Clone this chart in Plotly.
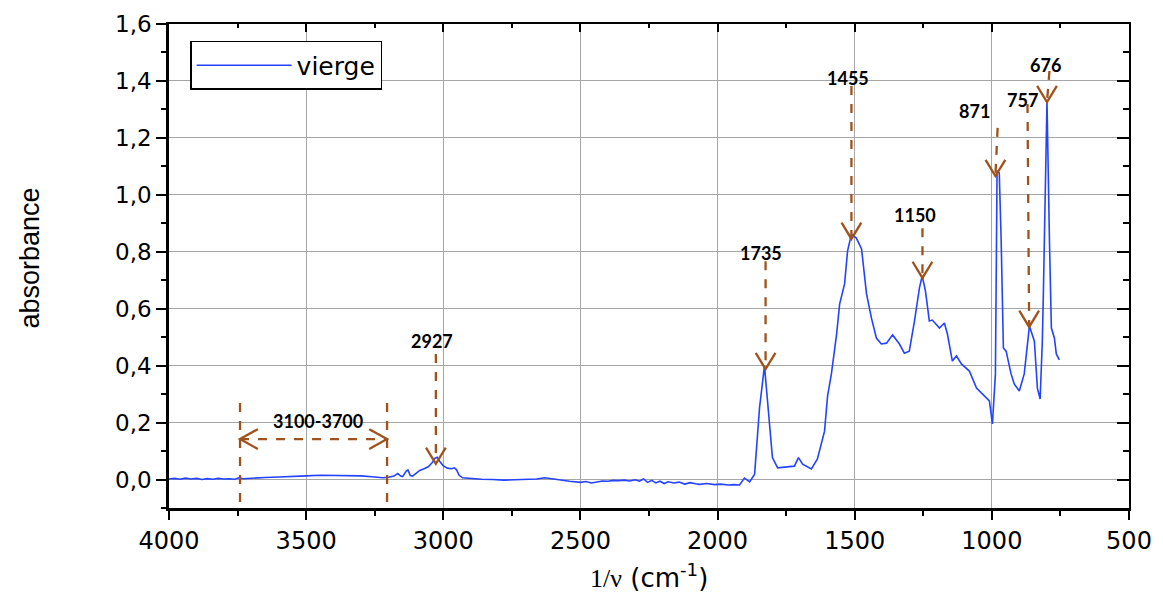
import plotly.graph_objects as go

# ---------------- data ----------------
wavenumber = [
    4000, 3980, 3960, 3940, 3920, 3900, 3880, 3860, 3840, 3820, 3800, 3780, 3760, 3745, 3730,
    3700, 3650, 3600, 3550, 3500, 3450, 3400, 3350, 3300, 3260, 3220, 3200, 3180, 3166, 3155,
    3148, 3135, 3129, 3120, 3112, 3100, 3086, 3070, 3055, 3040, 3030, 3022, 3012, 3000, 2985,
    2970, 2960, 2952, 2942, 2930, 2900, 2860, 2820, 2780, 2740, 2700, 2660, 2630, 2610, 2580,
    2540, 2500, 2480, 2460, 2440, 2420, 2400, 2380, 2360, 2340, 2320, 2300, 2285, 2270, 2255,
    2240, 2225, 2210, 2195, 2180, 2160, 2140, 2120, 2100, 2080, 2066, 2040, 2010, 1990, 1960,
    1940, 1920, 1902, 1883, 1865, 1847, 1829, 1811, 1800, 1781, 1749, 1720, 1705, 1690, 1658,
    1636, 1610, 1599, 1585, 1566, 1555, 1537, 1526, 1512, 1494, 1475, 1457, 1439, 1421, 1403,
    1384, 1362, 1337, 1319, 1301, 1282, 1264, 1254, 1242, 1228, 1217, 1191, 1173, 1162, 1144,
    1129, 1111, 1082, 1056, 1035, 1009, 998, 987, 981, 973, 966, 958, 948, 930, 918,
    900, 882, 863, 845, 834, 824, 816, 812, 803, 799, 790, 783, 772, 765, 754,
]
absorbance = [
    0.002, 0.004, 0.001, 0.005, 0.002, 0.004, 0.000, 0.003, 0.001, 0.004, 0.002, 0.003, 0.001, 0.006, 0.003,
    0.005, 0.007, 0.009, 0.012, 0.013, 0.015, 0.015, 0.014, 0.013, 0.010, 0.006, 0.008, 0.012, 0.021, 0.012,
    0.010, 0.030, 0.034, 0.014, 0.012, 0.022, 0.032, 0.038, 0.045, 0.060, 0.075, 0.078, 0.062, 0.048, 0.040,
    0.038, 0.041, 0.035, 0.015, 0.006, 0.003, 0.001, 0.000, -0.002, -0.001, 0.000, 0.002, 0.006, 0.003, -0.002,
    -0.006, -0.010, -0.007, -0.012, -0.008, -0.005, -0.006, -0.003, -0.004, -0.002, -0.005, -0.001, -0.006, 0.002, -0.010,
    -0.003, -0.012, -0.006, -0.014, -0.008, -0.012, -0.009, -0.016, -0.011, -0.015, -0.017, -0.014, -0.018, -0.016, -0.019,
    -0.018, -0.019, 0.005, -0.008, 0.019, 0.252, 0.399, 0.195, 0.077, 0.041, 0.044, 0.047, 0.077, 0.054, 0.037,
    0.072, 0.170, 0.293, 0.371, 0.511, 0.616, 0.687, 0.803, 0.862, 0.848, 0.810, 0.652, 0.567, 0.497, 0.476,
    0.479, 0.508, 0.476, 0.444, 0.451, 0.557, 0.673, 0.715, 0.662, 0.557, 0.560, 0.532, 0.550, 0.511, 0.416,
    0.434, 0.406, 0.381, 0.321, 0.300, 0.276, 0.195, 0.371, 1.084, 1.077, 0.838, 0.462, 0.451, 0.371, 0.335,
    0.311, 0.371, 0.539, 0.486, 0.321, 0.283, 0.486, 0.662, 1.189, 1.329, 0.838, 0.532, 0.497, 0.441, 0.420,
]
series_name = "vierge"

x_ticks = [4000, 3500, 3000, 2500, 2000, 1500, 1000, 500]
y_ticks = [0.0, 0.2, 0.4, 0.6, 0.8, 1.0, 1.2, 1.4, 1.6]

peak_labels = ["2927", "1735", "1455", "1150", "871", "757", "676"]
label_x = [3042, 1843, 1523, 1282, 1064, 889, 805]
label_y = [0.486, 0.796, 1.410, 0.929, 1.294, 1.333, 1.456]
arrow_top_x = [3027, 1825, 1512, 1253, 979, 870, 790]
arrow_top_y = [0.441, 0.767, 1.382, 0.883, 1.235, 1.319, 1.435]
arrow_tip_x = [3027, 1825, 1512, 1253, 987, 864, 799]
arrow_tip_y = [0.055, 0.388, 0.845, 0.708, 1.066, 0.536, 1.326]

band_label = "3100-3700"
band_label_x = 3457
band_label_y = 0.205
band_edges = [3741, 3205]
band_edge_y = [-0.079, 0.286]
band_arrow_y = 0.142

# ---------------- styles ----------------
BLUE = "#2443FF"
BROWN = "#A0521C"
GRID = "#A6A6A6"
HEAD_DX = 36      # half-width of V arrow heads (x units)
HEAD_DY = 0.057   # height of V arrow heads (y units)
HHEAD_DX = 65     # length of horizontal arrow heads (x units)
HHEAD_DY = 0.035  # half-spread of horizontal arrow heads (y units)

fig = go.Figure()
fig.add_trace(go.Scatter(
    x=wavenumber, y=absorbance, mode="lines", name=series_name,
    line=dict(color=BLUE, width=1.6),
))
# helper trace for the top/right tick axes
fig.add_trace(go.Scatter(x=[None], y=[None], xaxis="x2", yaxis="y2",
                         showlegend=False, hoverinfo="skip"))

shapes = []
dash_line = dict(color=BROWN, width=2.3, dash="dash")
head_line = dict(color=BROWN, width=2.3)
for tx, ty, hx, hy in zip(arrow_top_x, arrow_top_y, arrow_tip_x, arrow_tip_y):
    shapes.append(dict(type="line", xref="x", yref="y", x0=tx, y0=ty, x1=hx, y1=hy, line=dash_line))
    shapes.append(dict(type="path", xref="x", yref="y",
                       path=f"M {hx + HEAD_DX} {hy + HEAD_DY} L {hx} {hy} L {hx - HEAD_DX} {hy + HEAD_DY}",
                       line=head_line))
for bx in band_edges:
    shapes.append(dict(type="line", xref="x", yref="y", x0=bx, y0=band_edge_y[0], x1=bx, y1=band_edge_y[1],
                       line=dash_line))
shapes.append(dict(type="line", xref="x", yref="y", x0=band_edges[0], y0=band_arrow_y,
                   x1=band_edges[1], y1=band_arrow_y, line=dash_line))
left, right = band_edges
shapes.append(dict(type="path", xref="x", yref="y",
                   path=f"M {left - HHEAD_DX} {band_arrow_y + HHEAD_DY} L {left} {band_arrow_y} L {left - HHEAD_DX} {band_arrow_y - HHEAD_DY}",
                   line=head_line))
shapes.append(dict(type="path", xref="x", yref="y",
                   path=f"M {right + HHEAD_DX} {band_arrow_y + HHEAD_DY} L {right} {band_arrow_y} L {right + HHEAD_DX} {band_arrow_y - HHEAD_DY}",
                   line=head_line))

annotations = []
lab_font = dict(family="Lato, Carlito, Liberation Sans", size=18, color="black")
for t, lx, ly in zip(peak_labels, label_x, label_y):
    annotations.append(dict(x=lx, y=ly, xref="x", yref="y", text=f"<b>{t}</b>", showarrow=False, font=lab_font))
annotations.append(dict(x=band_label_x, y=band_label_y, xref="x", yref="y", text=f"<b>{band_label}</b>",
                        showarrow=False, font=lab_font))
annotations.append(dict(x=-0.145, y=0.517, xref="paper", yref="paper", xanchor="center", yanchor="middle",
                        text="absorbance", textangle=-90,
                        showarrow=False, font=dict(family="Liberation Sans", size=27, color="black")))
annotations.append(dict(x=0.5, y=-0.14, xref="paper", yref="paper", xanchor="center", yanchor="middle",
                        text="<span style='font-family:Liberation Serif'>1/ν</span> (cm<sup>-1</sup>)",
                        showarrow=False, font=dict(family="DejaVu Sans", size=26, color="black")))

fig.update_layout(
    width=1155, height=584,
    margin=dict(l=161, r=34, t=16, b=84),
    paper_bgcolor="white", plot_bgcolor="white",
    separators=",.",
    shapes=shapes, annotations=annotations,
    showlegend=True,
    legend=dict(x=0.022, y=0.965, xanchor="left", yanchor="top",
                bordercolor="black", borderwidth=1.5, bgcolor="white",
                font=dict(family="DejaVu Sans", size=25, color="black"),
                itemwidth=95, tracegroupgap=0),
    xaxis=dict(range=[4000, 500], tickvals=x_ticks, tickformat="d", automargin=False,
               showgrid=True, gridcolor=GRID, gridwidth=1,
               showline=True, linecolor="black", linewidth=2.5,
               ticks="outside", ticklen=9, tickwidth=2, tickcolor="black",
               minor=dict(dtick=250, ticks="outside", ticklen=5, tickwidth=1.5, tickcolor="black", showgrid=False),
               tickfont=dict(family="DejaVu Sans", size=24, color="black"),
               zeroline=False),
    yaxis=dict(range=[-0.1, 1.6], tickvals=y_ticks, tickformat=".1f", automargin=False,
               showgrid=True, gridcolor=GRID, gridwidth=1,
               showline=True, linecolor="black", linewidth=2.5,
               ticks="outside", ticklen=10, tickwidth=2, tickcolor="black",
               minor=dict(dtick=0.1, ticks="outside", ticklen=5, tickwidth=1.5, tickcolor="black", showgrid=False),
               tickfont=dict(family="DejaVu Sans", size=23, color="black"),
               zeroline=False),
    xaxis2=dict(range=[4000, 500], overlaying="x", side="top", tickvals=x_ticks, automargin=False,
                showticklabels=False, showgrid=False, zeroline=False,
                showline=True, linecolor="black", linewidth=2,
                ticks="inside", ticklen=8, tickwidth=2, tickcolor="black",
                minor=dict(dtick=250, ticks="inside", ticklen=4, tickwidth=1.5, tickcolor="black")),
    yaxis2=dict(range=[-0.1, 1.6], overlaying="y", side="right", tickvals=y_ticks, automargin=False,
                showticklabels=False, showgrid=False, zeroline=False,
                showline=True, linecolor="black", linewidth=2,
                ticks="inside", ticklen=12, tickwidth=2, tickcolor="black",
                minor=dict(dtick=0.1, ticks="inside", ticklen=6, tickwidth=1.5, tickcolor="black")),
)

fig.write_html("out.html")
